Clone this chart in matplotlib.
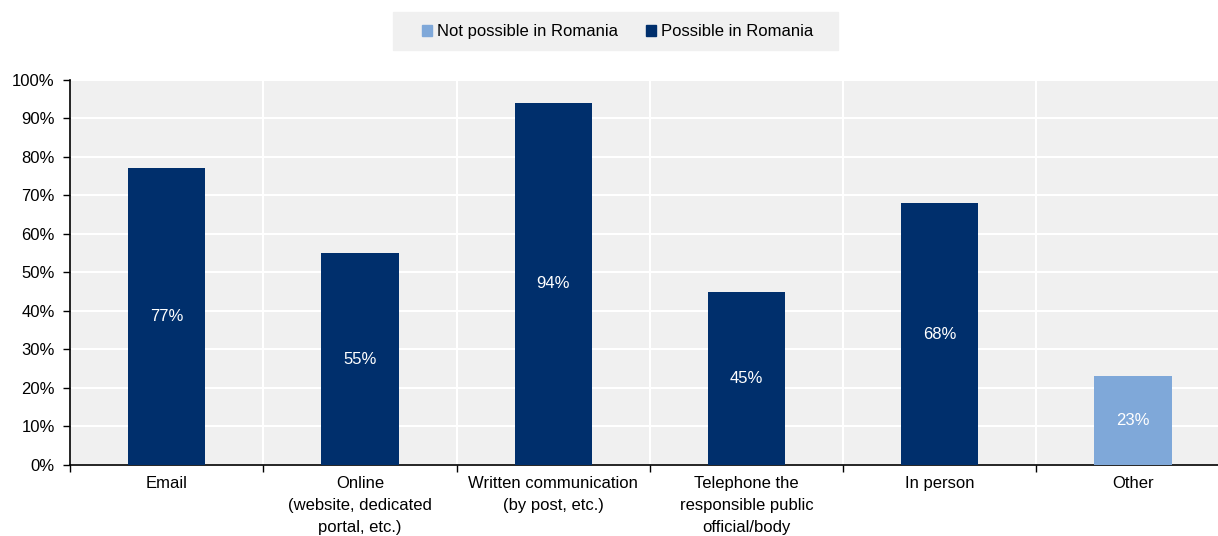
import matplotlib.pyplot as plt
from matplotlib.patches import Patch, Rectangle
from matplotlib.ticker import FuncFormatter

plt.rcParams['font.family'] = ['Liberation Sans', 'DejaVu Sans']

categories = ['Email', 'Online\n(website, dedicated\nportal, etc.)',
              'Written communication\n(by post, etc.)',
              'Telephone the\nresponsible public\nofficial/body',
              'In person', 'Other']
values = [77, 55, 94, 45, 68, 23]
possible = [True, True, True, True, True, False]

dark = '#002f6c'
light = '#7fa8d9'
bg = '#f0f0f0'

fig = plt.figure(figsize=(12.18, 5.36), dpi=100)
ax = fig.add_axes([0.0575, 0.1325, 0.9425, 0.7185])
ax.set_facecolor(bg)

x = range(len(categories))
colors = [dark if p else light for p in possible]
bars = ax.bar(x, values, width=0.4, color=colors, zorder=3)

for b, v in zip(bars, values):
    ax.text(b.get_x() + b.get_width() / 2, v / 2, '%d%%' % v,
            ha='center', va='center', color='white', fontsize=12, zorder=4)

ax.set_ylim(0, 100)
ax.set_xlim(-0.5, 5.44)
ax.set_yticks(range(0, 101, 10))
ax.yaxis.set_major_formatter(FuncFormatter(lambda v, p: '%d%%' % v))
ax.grid(axis='y', color='white', linewidth=1.5, zorder=1)

# category separators
for s in [0.5, 1.5, 2.5, 3.5, 4.5]:
    ax.axvline(s, color='white', linewidth=1.5, zorder=1)
ax.set_xticks([-0.5, 0.5, 1.5, 2.5, 3.5, 4.5])
ax.set_xticklabels([])
ax.set_xticks(list(x), minor=True)
ax.set_xticklabels(categories, minor=True, fontsize=12, linespacing=1.6)
ax.tick_params(axis='x', which='minor', length=0, pad=8)
ax.tick_params(axis='x', which='major', length=5, width=1, direction='out')
ax.tick_params(axis='y', length=5, width=1, labelsize=12, pad=6)

for side in ['top', 'right']:
    ax.spines[side].set_visible(False)
ax.spines['left'].set_linewidth(1.2)
ax.spines['bottom'].set_linewidth(1.2)

# legend box drawn separately so it can be wider than the entries
fig.patches.append(Rectangle((393 / 1218, 1 - 50 / 536), 445 / 1218, 38 / 536,
                             transform=fig.transFigure, color=bg, zorder=0))
handles = [Patch(color=light, label='Not possible in Romania'),
           Patch(color=dark, label='Possible in Romania')]
fig.legend(handles=handles, loc='center', bbox_to_anchor=(0.507, 0.941),
           ncol=2, frameon=False, fontsize=12, handlelength=0.6,
           handleheight=0.6, handletextpad=0.3, columnspacing=1.7)

fig.savefig('out.png', dpi=100)
